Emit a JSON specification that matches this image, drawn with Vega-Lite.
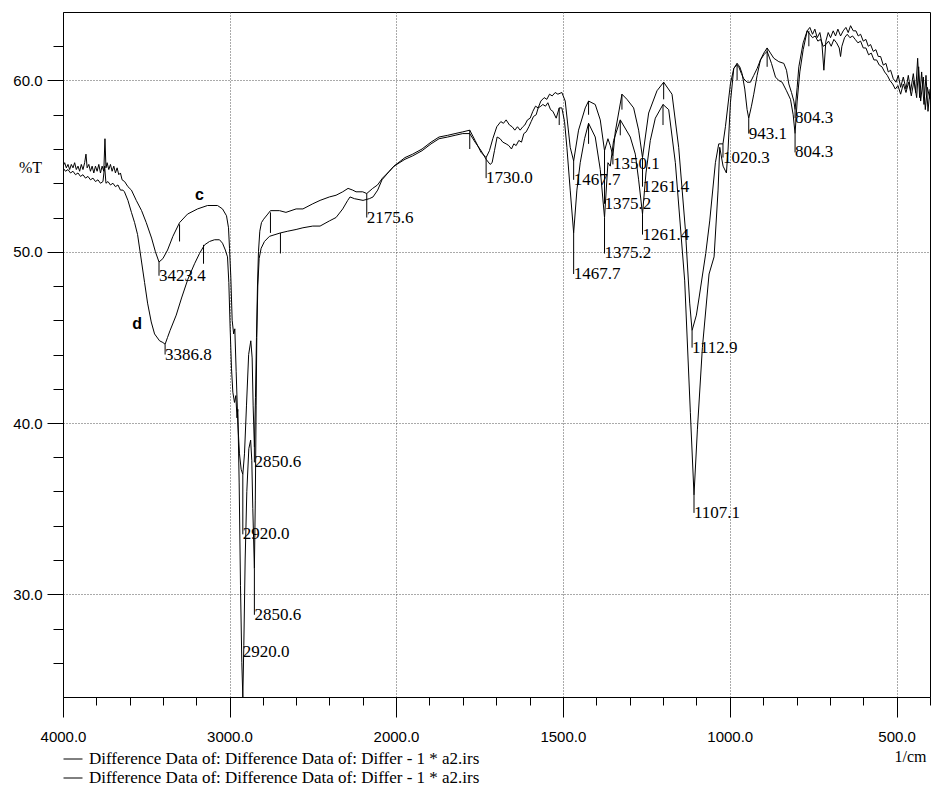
{
  "$schema": "https://vega.github.io/schema/vega-lite/v6.json",
  "width": 867,
  "height": 685,
  "autosize": {"type": "none"},
  "padding": {"left": 63, "top": 12, "right": 1, "bottom": 90},
  "background": "white",
  "config": {
    "view": {"stroke": "#000", "strokeWidth": 1},
    "axis": {"domainColor": "#000", "tickColor": "#000", "labelColor": "#000", "titleColor": "#000", "domainWidth": 1, "tickWidth": 1}
  },
  "datasets": {
    "curves": [
      {"s":"c","wn":4000,"t":55.0},{"s":"c","wn":3990,"t":55.2},{"s":"c","wn":3980,"t":54.9},{"s":"c","wn":3970,"t":55.1},{"s":"c","wn":3960,"t":54.8},{"s":"c","wn":3950,"t":55.1},{"s":"c","wn":3940,"t":54.9},{"s":"c","wn":3930,"t":55.2},{"s":"c","wn":3920,"t":54.8},{"s":"c","wn":3910,"t":55.0},{"s":"c","wn":3900,"t":54.7},{"s":"c","wn":3890,"t":55.1},{"s":"c","wn":3880,"t":54.8},{"s":"c","wn":3870,"t":55.2},{"s":"c","wn":3862,"t":55.7},{"s":"c","wn":3855,"t":54.9},{"s":"c","wn":3845,"t":55.1},{"s":"c","wn":3835,"t":54.7},{"s":"c","wn":3825,"t":55.0},{"s":"c","wn":3815,"t":54.6},{"s":"c","wn":3805,"t":55.0},{"s":"c","wn":3795,"t":54.7},{"s":"c","wn":3785,"t":55.1},{"s":"c","wn":3775,"t":54.6},{"s":"c","wn":3765,"t":55.0},{"s":"c","wn":3755,"t":54.7},{"s":"c","wn":3748,"t":56.6},{"s":"c","wn":3742,"t":54.9},{"s":"c","wn":3735,"t":55.2},{"s":"c","wn":3725,"t":54.8},{"s":"c","wn":3715,"t":55.1},{"s":"c","wn":3705,"t":54.7},{"s":"c","wn":3695,"t":55.0},{"s":"c","wn":3685,"t":54.6},{"s":"c","wn":3675,"t":54.9},{"s":"c","wn":3665,"t":54.5},{"s":"c","wn":3655,"t":54.6},{"s":"c","wn":3645,"t":54.2},{"s":"c","wn":3630,"t":54.1},{"s":"c","wn":3610,"t":53.8},{"s":"c","wn":3589,"t":53.6},{"s":"c","wn":3560,"t":53.0},{"s":"c","wn":3528,"t":52.4},{"s":"c","wn":3500,"t":51.7},{"s":"c","wn":3468,"t":50.8},{"s":"c","wn":3445,"t":50.0},{"s":"c","wn":3423.4,"t":49.4},{"s":"c","wn":3400,"t":49.6},{"s":"c","wn":3372,"t":50.1},{"s":"c","wn":3340,"t":50.9},{"s":"c","wn":3300,"t":51.7},{"s":"c","wn":3252,"t":52.2},{"s":"c","wn":3192,"t":52.5},{"s":"c","wn":3132,"t":52.7},{"s":"c","wn":3072,"t":52.7},{"s":"c","wn":3042,"t":52.5},{"s":"c","wn":3018,"t":52.1},{"s":"c","wn":3006,"t":51.4},{"s":"c","wn":3000,"t":50.2},{"s":"c","wn":2992,"t":48.5},{"s":"c","wn":2984,"t":46.0},{"s":"c","wn":2975,"t":45.2},{"s":"c","wn":2968,"t":45.5},{"s":"c","wn":2960,"t":43.0},{"s":"c","wn":2950,"t":40.0},{"s":"c","wn":2940,"t":38.2},{"s":"c","wn":2930,"t":37.3},{"s":"c","wn":2920,"t":37.0},{"s":"c","wn":2910,"t":38.2},{"s":"c","wn":2898,"t":41.0},{"s":"c","wn":2885,"t":44.0},{"s":"c","wn":2872,"t":44.8},{"s":"c","wn":2864,"t":43.8},{"s":"c","wn":2858,"t":41.0},{"s":"c","wn":2850.6,"t":38.6},{"s":"c","wn":2844,"t":41.5},{"s":"c","wn":2838,"t":45.0},{"s":"c","wn":2832,"t":48.0},{"s":"c","wn":2826,"t":50.0},{"s":"c","wn":2818,"t":51.2},{"s":"c","wn":2808,"t":51.7},{"s":"c","wn":2795,"t":51.9},{"s":"c","wn":2770,"t":52.2},{"s":"c","wn":2754,"t":52.4},{"s":"c","wn":2700,"t":52.4},{"s":"c","wn":2661,"t":52.3},{"s":"c","wn":2600,"t":52.5},{"s":"c","wn":2559,"t":52.5},{"s":"c","wn":2500,"t":52.8},{"s":"c","wn":2456,"t":53.0},{"s":"c","wn":2400,"t":53.2},{"s":"c","wn":2360,"t":53.3},{"s":"c","wn":2320,"t":53.5},{"s":"c","wn":2288,"t":53.7},{"s":"c","wn":2260,"t":53.6},{"s":"c","wn":2240,"t":53.5},{"s":"c","wn":2200,"t":53.5},{"s":"c","wn":2175.6,"t":53.4},{"s":"c","wn":2140,"t":53.7},{"s":"c","wn":2111,"t":53.9},{"s":"c","wn":2081,"t":54.3},{"s":"c","wn":2040,"t":54.7},{"s":"c","wn":2012,"t":55.0},{"s":"c","wn":1973,"t":55.5},{"s":"c","wn":1950,"t":55.7},{"s":"c","wn":1922,"t":56.0},{"s":"c","wn":1895,"t":56.4},{"s":"c","wn":1871,"t":56.7},{"s":"c","wn":1845,"t":56.8},{"s":"c","wn":1823,"t":56.9},{"s":"c","wn":1800,"t":57.0},{"s":"c","wn":1779,"t":57.1},{"s":"c","wn":1763,"t":56.5},{"s":"c","wn":1745,"t":55.8},{"s":"c","wn":1730,"t":55.5},{"s":"c","wn":1720,"t":55.9},{"s":"c","wn":1710,"t":56.6},{"s":"c","wn":1698,"t":57.3},{"s":"c","wn":1686,"t":57.6},{"s":"c","wn":1678,"t":57.5},{"s":"c","wn":1670,"t":57.7},{"s":"c","wn":1660,"t":57.4},{"s":"c","wn":1652,"t":57.3},{"s":"c","wn":1644,"t":57.1},{"s":"c","wn":1636,"t":57.3},{"s":"c","wn":1628,"t":57.1},{"s":"c","wn":1620,"t":57.3},{"s":"c","wn":1614,"t":57.4},{"s":"c","wn":1606,"t":57.7},{"s":"c","wn":1598,"t":57.8},{"s":"c","wn":1590,"t":58.2},{"s":"c","wn":1582,"t":58.5},{"s":"c","wn":1574,"t":58.4},{"s":"c","wn":1566,"t":58.8},{"s":"c","wn":1556,"t":59.0},{"s":"c","wn":1548,"t":58.9},{"s":"c","wn":1540,"t":59.2},{"s":"c","wn":1532,"t":59.1},{"s":"c","wn":1523,"t":59.3},{"s":"c","wn":1515,"t":59.2},{"s":"c","wn":1503,"t":59.3},{"s":"c","wn":1493,"t":58.8},{"s":"c","wn":1478,"t":56.1},{"s":"c","wn":1467.7,"t":55.3},{"s":"c","wn":1453,"t":57.1},{"s":"c","wn":1433,"t":58.4},{"s":"c","wn":1423,"t":58.8},{"s":"c","wn":1403,"t":58.6},{"s":"c","wn":1388,"t":57.7},{"s":"c","wn":1375.2,"t":55.9},{"s":"c","wn":1365,"t":56.6},{"s":"c","wn":1358,"t":56.2},{"s":"c","wn":1350.1,"t":55.6},{"s":"c","wn":1343,"t":57.0},{"s":"c","wn":1323,"t":59.2},{"s":"c","wn":1308,"t":58.9},{"s":"c","wn":1288,"t":58.4},{"s":"c","wn":1273,"t":57.1},{"s":"c","wn":1261.4,"t":55.5},{"s":"c","wn":1243,"t":58.1},{"s":"c","wn":1218,"t":59.4},{"s":"c","wn":1198,"t":59.9},{"s":"c","wn":1173,"t":59.2},{"s":"c","wn":1153,"t":56.1},{"s":"c","wn":1133,"t":51.3},{"s":"c","wn":1120,"t":47.0},{"s":"c","wn":1112.9,"t":45.4},{"s":"c","wn":1100,"t":46.3},{"s":"c","wn":1092,"t":47.3},{"s":"c","wn":1072,"t":49.9},{"s":"c","wn":1060,"t":51.8},{"s":"c","wn":1043,"t":55.2},{"s":"c","wn":1033,"t":56.3},{"s":"c","wn":1020.3,"t":56.3},{"s":"c","wn":1013,"t":57.3},{"s":"c","wn":998,"t":59.8},{"s":"c","wn":988,"t":60.7},{"s":"c","wn":978,"t":61.0},{"s":"c","wn":970,"t":60.8},{"s":"c","wn":963,"t":60.4},{"s":"c","wn":955,"t":59.5},{"s":"c","wn":948,"t":58.3},{"s":"c","wn":943.1,"t":57.8},{"s":"c","wn":935,"t":58.5},{"s":"c","wn":928,"t":59.2},{"s":"c","wn":918,"t":60.3},{"s":"c","wn":908,"t":61.2},{"s":"c","wn":898,"t":61.6},{"s":"c","wn":888,"t":61.9},{"s":"c","wn":878,"t":61.6},{"s":"c","wn":868,"t":61.3},{"s":"c","wn":853,"t":61.1},{"s":"c","wn":838,"t":61.0},{"s":"c","wn":830,"t":60.6},{"s":"c","wn":823,"t":59.8},{"s":"c","wn":815,"t":59.3},{"s":"c","wn":808,"t":58.8},{"s":"c","wn":804.3,"t":58.3},{"s":"c","wn":798,"t":59.6},{"s":"c","wn":793,"t":60.8},{"s":"c","wn":780,"t":62.2},{"s":"c","wn":768,"t":62.9},{"s":"c","wn":760,"t":63.1},{"s":"c","wn":752,"t":62.7},{"s":"c","wn":745,"t":63.0},{"s":"c","wn":738,"t":62.5},{"s":"c","wn":730,"t":62.8},{"s":"c","wn":724,"t":62.2},{"s":"c","wn":718,"t":60.6},{"s":"c","wn":712,"t":62.3},{"s":"c","wn":705,"t":62.8},{"s":"c","wn":698,"t":62.5},{"s":"c","wn":690,"t":62.9},{"s":"c","wn":683,"t":62.6},{"s":"c","wn":676,"t":63.0},{"s":"c","wn":668,"t":62.6},{"s":"c","wn":660,"t":62.9},{"s":"c","wn":652,"t":63.1},{"s":"c","wn":645,"t":62.8},{"s":"c","wn":638,"t":63.2},{"s":"c","wn":630,"t":62.9},{"s":"c","wn":622,"t":62.9},{"s":"c","wn":615,"t":62.6},{"s":"c","wn":608,"t":62.7},{"s":"c","wn":600,"t":62.3},{"s":"c","wn":592,"t":62.4},{"s":"c","wn":585,"t":62.0},{"s":"c","wn":578,"t":62.1},{"s":"c","wn":570,"t":61.7},{"s":"c","wn":562,"t":61.8},{"s":"c","wn":555,"t":61.4},{"s":"c","wn":548,"t":61.4},{"s":"c","wn":540,"t":60.9},{"s":"c","wn":532,"t":61.0},{"s":"c","wn":525,"t":60.5},{"s":"c","wn":518,"t":60.6},{"s":"c","wn":510,"t":60.1},{"s":"c","wn":502,"t":59.9},{"s":"c","wn":495,"t":60.3},{"s":"c","wn":488,"t":59.6},{"s":"c","wn":480,"t":60.2},{"s":"c","wn":472,"t":59.5},{"s":"c","wn":465,"t":60.3},{"s":"c","wn":458,"t":59.4},{"s":"c","wn":450,"t":60.4},{"s":"c","wn":443,"t":59.3},{"s":"c","wn":437,"t":61.3},{"s":"c","wn":431,"t":59.0},{"s":"c","wn":425,"t":60.5},{"s":"c","wn":418,"t":58.6},{"s":"c","wn":412,"t":60.3},{"s":"c","wn":406,"t":58.2},{"s":"c","wn":400,"t":59.5},

      {"s":"d","wn":4000,"t":54.9},{"s":"d","wn":3985,"t":54.7},{"s":"d","wn":3970,"t":54.8},{"s":"d","wn":3955,"t":54.6},{"s":"d","wn":3940,"t":54.7},{"s":"d","wn":3925,"t":54.5},{"s":"d","wn":3910,"t":54.6},{"s":"d","wn":3895,"t":54.4},{"s":"d","wn":3880,"t":54.5},{"s":"d","wn":3865,"t":54.3},{"s":"d","wn":3850,"t":54.4},{"s":"d","wn":3835,"t":54.2},{"s":"d","wn":3820,"t":54.3},{"s":"d","wn":3805,"t":54.1},{"s":"d","wn":3790,"t":54.2},{"s":"d","wn":3775,"t":54.0},{"s":"d","wn":3760,"t":54.1},{"s":"d","wn":3750,"t":55.0},{"s":"d","wn":3742,"t":54.0},{"s":"d","wn":3730,"t":54.1},{"s":"d","wn":3715,"t":53.9},{"s":"d","wn":3700,"t":54.0},{"s":"d","wn":3685,"t":53.8},{"s":"d","wn":3670,"t":53.9},{"s":"d","wn":3655,"t":53.6},{"s":"d","wn":3640,"t":53.6},{"s":"d","wn":3631,"t":53.5},{"s":"d","wn":3610,"t":53.0},{"s":"d","wn":3589,"t":52.3},{"s":"d","wn":3570,"t":51.7},{"s":"d","wn":3552,"t":51.0},{"s":"d","wn":3528,"t":49.4},{"s":"d","wn":3510,"t":48.2},{"s":"d","wn":3492,"t":47.0},{"s":"d","wn":3470,"t":45.9},{"s":"d","wn":3450,"t":45.2},{"s":"d","wn":3420,"t":44.8},{"s":"d","wn":3400,"t":44.7},{"s":"d","wn":3386.8,"t":44.6},{"s":"d","wn":3372,"t":45.0},{"s":"d","wn":3357,"t":45.4},{"s":"d","wn":3320,"t":46.3},{"s":"d","wn":3288,"t":47.3},{"s":"d","wn":3250,"t":48.4},{"s":"d","wn":3210,"t":49.3},{"s":"d","wn":3180,"t":49.9},{"s":"d","wn":3150,"t":50.4},{"s":"d","wn":3120,"t":50.6},{"s":"d","wn":3090,"t":50.7},{"s":"d","wn":3060,"t":50.7},{"s":"d","wn":3042,"t":50.5},{"s":"d","wn":3025,"t":50.1},{"s":"d","wn":3012,"t":49.7},{"s":"d","wn":3004,"t":48.2},{"s":"d","wn":2996,"t":45.5},{"s":"d","wn":2988,"t":43.2},{"s":"d","wn":2980,"t":41.8},{"s":"d","wn":2970,"t":41.2},{"s":"d","wn":2962,"t":41.6},{"s":"d","wn":2955,"t":40.3},{"s":"d","wn":2950,"t":40.8},{"s":"d","wn":2942,"t":36.5},{"s":"d","wn":2934,"t":30.5},{"s":"d","wn":2926,"t":26.0},{"s":"d","wn":2920,"t":24.0},{"s":"d","wn":2914,"t":27.0},{"s":"d","wn":2906,"t":32.0},{"s":"d","wn":2896,"t":36.0},{"s":"d","wn":2884,"t":38.5},{"s":"d","wn":2873,"t":39.0},{"s":"d","wn":2866,"t":37.8},{"s":"d","wn":2860,"t":35.0},{"s":"d","wn":2850.6,"t":31.5},{"s":"d","wn":2845,"t":35.5},{"s":"d","wn":2840,"t":41.0},{"s":"d","wn":2836,"t":45.0},{"s":"d","wn":2830,"t":48.0},{"s":"d","wn":2822,"t":49.6},{"s":"d","wn":2810,"t":50.2},{"s":"d","wn":2790,"t":50.6},{"s":"d","wn":2760,"t":50.9},{"s":"d","wn":2694,"t":51.1},{"s":"d","wn":2650,"t":51.2},{"s":"d","wn":2600,"t":51.3},{"s":"d","wn":2559,"t":51.4},{"s":"d","wn":2500,"t":51.5},{"s":"d","wn":2456,"t":51.5},{"s":"d","wn":2400,"t":51.8},{"s":"d","wn":2360,"t":52.0},{"s":"d","wn":2320,"t":52.5},{"s":"d","wn":2290,"t":53.0},{"s":"d","wn":2276,"t":53.2},{"s":"d","wn":2250,"t":53.1},{"s":"d","wn":2198,"t":53.0},{"s":"d","wn":2160,"t":53.1},{"s":"d","wn":2138,"t":53.2},{"s":"d","wn":2110,"t":53.6},{"s":"d","wn":2084,"t":54.2},{"s":"d","wn":2040,"t":54.7},{"s":"d","wn":2012,"t":55.0},{"s":"d","wn":1973,"t":55.4},{"s":"d","wn":1950,"t":55.6},{"s":"d","wn":1922,"t":55.9},{"s":"d","wn":1895,"t":56.3},{"s":"d","wn":1871,"t":56.6},{"s":"d","wn":1845,"t":56.7},{"s":"d","wn":1823,"t":56.8},{"s":"d","wn":1800,"t":56.9},{"s":"d","wn":1779,"t":56.9},{"s":"d","wn":1763,"t":56.4},{"s":"d","wn":1745,"t":55.9},{"s":"d","wn":1730,"t":55.4},{"s":"d","wn":1718,"t":55.1},{"s":"d","wn":1712,"t":55.2},{"s":"d","wn":1705,"t":55.9},{"s":"d","wn":1697,"t":56.7},{"s":"d","wn":1688,"t":56.6},{"s":"d","wn":1680,"t":56.4},{"s":"d","wn":1670,"t":56.3},{"s":"d","wn":1662,"t":56.2},{"s":"d","wn":1654,"t":56.0},{"s":"d","wn":1647,"t":56.3},{"s":"d","wn":1640,"t":56.2},{"s":"d","wn":1632,"t":56.5},{"s":"d","wn":1624,"t":56.4},{"s":"d","wn":1617,"t":56.9},{"s":"d","wn":1610,"t":57.0},{"s":"d","wn":1602,"t":57.3},{"s":"d","wn":1595,"t":57.6},{"s":"d","wn":1588,"t":57.9},{"s":"d","wn":1580,"t":58.0},{"s":"d","wn":1574,"t":58.4},{"s":"d","wn":1566,"t":58.5},{"s":"d","wn":1560,"t":58.6},{"s":"d","wn":1552,"t":58.5},{"s":"d","wn":1545,"t":58.7},{"s":"d","wn":1537,"t":58.3},{"s":"d","wn":1530,"t":58.2},{"s":"d","wn":1520,"t":57.8},{"s":"d","wn":1511,"t":58.4},{"s":"d","wn":1503,"t":58.4},{"s":"d","wn":1495,"t":57.6},{"s":"d","wn":1488,"t":56.1},{"s":"d","wn":1478,"t":53.6},{"s":"d","wn":1467.7,"t":51.1},{"s":"d","wn":1458,"t":53.6},{"s":"d","wn":1448,"t":55.2},{"s":"d","wn":1435,"t":56.6},{"s":"d","wn":1423,"t":57.5},{"s":"d","wn":1403,"t":56.7},{"s":"d","wn":1388,"t":54.8},{"s":"d","wn":1375.2,"t":52.0},{"s":"d","wn":1365,"t":55.2},{"s":"d","wn":1358,"t":55.0},{"s":"d","wn":1348,"t":56.5},{"s":"d","wn":1328,"t":57.7},{"s":"d","wn":1298,"t":56.7},{"s":"d","wn":1283,"t":55.7},{"s":"d","wn":1273,"t":54.2},{"s":"d","wn":1261.4,"t":52.2},{"s":"d","wn":1251,"t":54.6},{"s":"d","wn":1238,"t":56.5},{"s":"d","wn":1223,"t":57.8},{"s":"d","wn":1200,"t":58.6},{"s":"d","wn":1183,"t":58.3},{"s":"d","wn":1163,"t":55.2},{"s":"d","wn":1135,"t":48.3},{"s":"d","wn":1118,"t":40.6},{"s":"d","wn":1107.1,"t":35.8},{"s":"d","wn":1097,"t":39.6},{"s":"d","wn":1082,"t":44.4},{"s":"d","wn":1062,"t":48.7},{"s":"d","wn":1047,"t":49.7},{"s":"d","wn":1035,"t":53.6},{"s":"d","wn":1030,"t":56.1},{"s":"d","wn":1020,"t":55.0},{"s":"d","wn":1010,"t":54.6},{"s":"d","wn":1005,"t":56.0},{"s":"d","wn":998,"t":58.7},{"s":"d","wn":988,"t":60.7},{"s":"d","wn":980,"t":60.9},{"s":"d","wn":973,"t":60.8},{"s":"d","wn":965,"t":60.4},{"s":"d","wn":958,"t":60.1},{"s":"d","wn":948,"t":59.9},{"s":"d","wn":938,"t":59.9},{"s":"d","wn":928,"t":60.3},{"s":"d","wn":918,"t":60.7},{"s":"d","wn":908,"t":61.2},{"s":"d","wn":898,"t":61.5},{"s":"d","wn":888,"t":61.7},{"s":"d","wn":875,"t":61.0},{"s":"d","wn":863,"t":60.2},{"s":"d","wn":853,"t":60.0},{"s":"d","wn":843,"t":59.9},{"s":"d","wn":830,"t":59.4},{"s":"d","wn":818,"t":58.9},{"s":"d","wn":810,"t":58.0},{"s":"d","wn":804.3,"t":56.9},{"s":"d","wn":798,"t":58.8},{"s":"d","wn":790,"t":60.5},{"s":"d","wn":780,"t":61.8},{"s":"d","wn":768,"t":62.9},{"s":"d","wn":760,"t":62.7},{"s":"d","wn":752,"t":62.5},{"s":"d","wn":744,"t":62.6},{"s":"d","wn":736,"t":62.3},{"s":"d","wn":728,"t":62.4},{"s":"d","wn":720,"t":62.0},{"s":"d","wn":712,"t":62.1},{"s":"d","wn":704,"t":62.3},{"s":"d","wn":696,"t":62.0},{"s":"d","wn":688,"t":62.4},{"s":"d","wn":680,"t":62.2},{"s":"d","wn":672,"t":61.9},{"s":"d","wn":668,"t":61.4},{"s":"d","wn":664,"t":62.0},{"s":"d","wn":656,"t":62.5},{"s":"d","wn":648,"t":62.7},{"s":"d","wn":640,"t":62.5},{"s":"d","wn":632,"t":62.6},{"s":"d","wn":624,"t":62.4},{"s":"d","wn":616,"t":62.2},{"s":"d","wn":608,"t":62.3},{"s":"d","wn":600,"t":61.9},{"s":"d","wn":592,"t":61.9},{"s":"d","wn":584,"t":61.5},{"s":"d","wn":576,"t":61.6},{"s":"d","wn":568,"t":61.2},{"s":"d","wn":560,"t":61.2},{"s":"d","wn":552,"t":60.9},{"s":"d","wn":544,"t":60.8},{"s":"d","wn":536,"t":60.5},{"s":"d","wn":528,"t":60.3},{"s":"d","wn":520,"t":60.0},{"s":"d","wn":512,"t":59.8},{"s":"d","wn":504,"t":59.5},{"s":"d","wn":496,"t":59.7},{"s":"d","wn":488,"t":59.2},{"s":"d","wn":480,"t":59.8},{"s":"d","wn":472,"t":59.3},{"s":"d","wn":464,"t":59.9},{"s":"d","wn":456,"t":59.1},{"s":"d","wn":448,"t":60.0},{"s":"d","wn":440,"t":59.0},{"s":"d","wn":434,"t":60.8},{"s":"d","wn":428,"t":58.8},{"s":"d","wn":420,"t":60.2},{"s":"d","wn":414,"t":58.3},{"s":"d","wn":408,"t":59.6},{"s":"d","wn":400,"t":58.9}
    ],
    "peakTicks": [
      {"wn":3300,"t1":51.6,"t2":50.6},{"wn":3156,"t1":50.4,"t2":49.3},{"wn":2754,"t1":52.3,"t2":51.1},{"wn":2694,"t1":51.1,"t2":49.9},
      {"wn":1779,"t1":57.1,"t2":56.0},{"wn":1511,"t1":58.4,"t2":57.4},{"wn":1423,"t1":58.8,"t2":58.0},{"wn":1423,"t1":57.5,"t2":56.3},
      {"wn":1323,"t1":59.2,"t2":58.3},{"wn":1328,"t1":57.7,"t2":56.8},{"wn":1198,"t1":59.9,"t2":58.9},{"wn":1200,"t1":58.6,"t2":57.4},
      {"wn":978,"t1":61.0,"t2":60.0},{"wn":888,"t1":61.9,"t2":60.8},{"wn":763,"t1":62.9,"t2":62.0}
    ],
    "peakLabels": [
      {"wn":3423.4,"tip":49.4,"lab":48.6,"text":"3423.4"},
      {"wn":3386.8,"tip":44.6,"lab":44.0,"text":"3386.8"},
      {"wn":2920.0,"tip":37.0,"lab":33.5,"text":"2920.0"},
      {"wn":2920.0,"tip":26.65,"lab":26.65,"text":"2920.0"},
      {"wn":2850.6,"tip":38.6,"lab":37.7,"text":"2850.6"},
      {"wn":2850.6,"tip":31.5,"lab":28.8,"text":"2850.6"},
      {"wn":2175.6,"tip":53.4,"lab":52.0,"text":"2175.6"},
      {"wn":1730.0,"tip":55.5,"lab":54.3,"text":"1730.0"},
      {"wn":1467.7,"tip":55.3,"lab":54.2,"text":"1467.7"},
      {"wn":1467.7,"tip":51.1,"lab":48.7,"text":"1467.7"},
      {"wn":1375.2,"tip":55.9,"lab":52.8,"text":"1375.2"},
      {"wn":1375.2,"tip":52.0,"lab":49.9,"text":"1375.2"},
      {"wn":1350.1,"tip":55.6,"lab":55.1,"text":"1350.1"},
      {"wn":1261.4,"tip":55.5,"lab":53.8,"text":"1261.4"},
      {"wn":1261.4,"tip":52.2,"lab":51.0,"text":"1261.4"},
      {"wn":1112.9,"tip":45.4,"lab":44.4,"text":"1112.9"},
      {"wn":1107.1,"tip":35.8,"lab":34.75,"text":"1107.1"},
      {"wn":1020.3,"tip":56.3,"lab":55.5,"text":"1020.3"},
      {"wn":943.1,"tip":57.8,"lab":56.9,"text":"943.1"},
      {"wn":804.3,"tip":58.3,"lab":57.8,"text":"804.3"},
      {"wn":804.3,"tip":56.9,"lab":55.8,"text":"804.3"}
    ],
    "curveTags": [
      {"wn":3180,"t":53.3,"tag":"c"},
      {"wn":3555,"t":45.8,"tag":"d"}
    ]
  },
  "resolve": {"axis": {"x": "independent", "y": "independent"}},
  "layer": [
    {
      "data": {"name": "curves"},
      "mark": {"type": "line", "strokeWidth": 1, "clip": true},
      "encoding": {
        "x": {
          "field": "wn", "type": "quantitative",
          "scale": {"domain": [4000, 2000, 400], "range": [0, 333, 867], "nice": false, "zero": false},
          "axis": {
            "orient": "bottom", "values": [4000, 3000, 2000, 1500, 1000, 500], "format": ".1f",
            "tickSize": 20, "labelPadding": 12, "labelFont": "Liberation Sans", "labelFontSize": 15,
            "labelFlush": false, "labelOverlap": false,
            "grid": true, "gridDash": [1, 2], "gridColor": "#555", "gridWidth": 1,
            "title": "1/cm", "titleFont": "Liberation Serif", "titleFontSize": 16, "titleFontWeight": "normal",
            "titleX": 863, "titleY": 59, "titleAlign": "right", "titleBaseline": "middle"
          }
        },
        "y": {
          "field": "t", "type": "quantitative",
          "scale": {"domain": [24, 64], "nice": false, "zero": false},
          "axis": {
            "orient": "left", "values": [30, 40, 50, 60], "format": ".1f",
            "tickSize": 16, "labelPadding": 5, "labelFont": "Liberation Sans", "labelFontSize": 15,
            "grid": true, "gridDash": [1, 2], "gridColor": "#555", "gridWidth": 1,
            "title": "%T", "titleAngle": 0, "titleX": -33, "titleY": 155, "titleAlign": "center", "titleBaseline": "middle",
            "titleFont": "Liberation Serif", "titleFontSize": 16, "titleFontWeight": "normal"
          }
        },
        "color": {
          "field": "s", "type": "nominal",
          "scale": {"domain": ["c", "d"], "range": ["#000", "#000"]},
          "legend": {
            "orient": "none", "legendX": 0, "legendY": 737, "title": null, "direction": "vertical",
            "symbolType": "stroke", "symbolSize": 361, "symbolStrokeWidth": 1, "symbolStrokeColor": "#000",
            "labelExpr": "'Difference Data of: Difference Data of: Differ - 1 * a2.irs'",
            "labelFont": "Liberation Serif", "labelFontSize": 17, "labelColor": "#000", "labelLimit": 600,
            "labelOffset": 6, "rowPadding": 1, "padding": 0
          }
        }
      }
    },
    {
      "data": {"name": "peakTicks"},
      "mark": {"type": "rule", "stroke": "#000", "strokeWidth": 1},
      "encoding": {
        "x": {
          "field": "wn", "type": "quantitative",
          "scale": {"domain": [4000, 2000, 400], "range": [0, 333, 867], "nice": false, "zero": false},
          "axis": {
            "orient": "bottom",
            "values": [3800, 3600, 3400, 3200, 2800, 2600, 2400, 2200, 1900, 1800, 1700, 1600, 1400, 1300, 1200, 1100, 900, 800, 700, 600, 400],
            "tickSize": 8, "labels": false, "domain": false, "grid": false, "title": null
          }
        },
        "y": {
          "field": "t1", "type": "quantitative",
          "scale": {"domain": [24, 64], "nice": false, "zero": false},
          "axis": {
            "orient": "left",
            "values": [26, 28, 32, 34, 36, 38, 42, 44, 46, 48, 52, 54, 56, 58, 62],
            "tickSize": 10, "labels": false, "domain": false, "grid": false, "title": null
          }
        },
        "y2": {"field": "t2"}
      }
    },
    {
      "data": {"name": "peakLabels"},
      "mark": {"type": "rule", "stroke": "#000", "strokeWidth": 1},
      "encoding": {
        "x": {"field": "wn", "type": "quantitative", "axis": null},
        "y": {"field": "tip", "type": "quantitative", "axis": null},
        "y2": {"field": "lab"}
      }
    },
    {
      "data": {"name": "peakLabels"},
      "mark": {"type": "text", "align": "left", "baseline": "middle", "dx": 0, "font": "Liberation Serif", "fontSize": 17, "color": "#000"},
      "encoding": {
        "x": {"field": "wn", "type": "quantitative", "axis": null},
        "y": {"field": "lab", "type": "quantitative", "axis": null},
        "text": {"field": "text"}
      }
    },
    {
      "data": {"name": "curveTags"},
      "mark": {"type": "text", "align": "center", "baseline": "middle", "font": "Liberation Sans", "fontSize": 16, "fontWeight": "bold", "color": "#000"},
      "encoding": {
        "x": {"field": "wn", "type": "quantitative", "axis": null},
        "y": {"field": "t", "type": "quantitative", "axis": null},
        "text": {"field": "tag"}
      }
    }
  ]
}
